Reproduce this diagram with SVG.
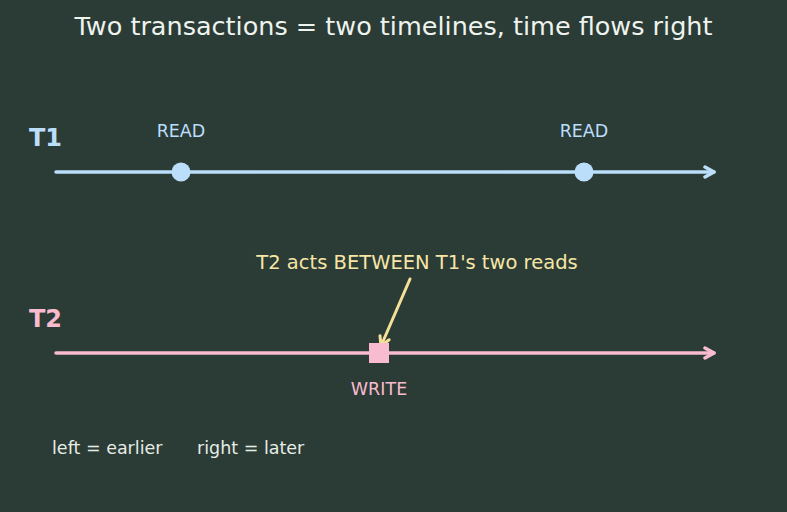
<svg xmlns="http://www.w3.org/2000/svg" width="787" height="512" viewBox="0 0 787 512">
<style>
text{font-family:"DejaVu Sans","Liberation Sans",sans-serif}
.t1{fill:#bbdefb}.t2{fill:#f8bbd0}
.lbl{font-size:17.5px;text-anchor:middle}
.name{font-size:24px;font-weight:bold}
</style>
<defs>
<marker id="ah1" viewBox="0 0 14 14" refX="12" refY="7" markerWidth="14" markerHeight="14" markerUnits="userSpaceOnUse" orient="auto"><path d="M3,2 L12,7 L3,12" fill="none" stroke="#bbdefb" stroke-width="3.5" stroke-linecap="round" stroke-linejoin="round"/></marker>
<marker id="ah2" viewBox="0 0 14 14" refX="12" refY="7" markerWidth="14" markerHeight="14" markerUnits="userSpaceOnUse" orient="auto"><path d="M3,2 L12,7 L3,12" fill="none" stroke="#f8bbd0" stroke-width="3.5" stroke-linecap="round" stroke-linejoin="round"/></marker>
<marker id="ah3" viewBox="0 0 14 14" refX="12" refY="7" markerWidth="14" markerHeight="14" markerUnits="userSpaceOnUse" orient="auto"><path d="M3,2 L12,7 L3,12" fill="none" stroke="#f5e09a" stroke-width="3" stroke-linecap="round" stroke-linejoin="round"/></marker>
</defs>
<rect width="787" height="512" fill="#2b3b35"/>
<text x="393.5" y="35" font-size="25.5" text-anchor="middle" fill="#eef3ee">Two transactions = two timelines, time flows right</text>
<g id="connectors">
<line x1="56" y1="172" x2="714" y2="172" stroke="#bbdefb" stroke-width="3.5" stroke-linecap="round" marker-end="url(#ah1)"/>
<line x1="56" y1="353" x2="714" y2="353" stroke="#f8bbd0" stroke-width="3.5" stroke-linecap="round" marker-end="url(#ah2)"/>
<line x1="410" y1="279" x2="381" y2="346" stroke="#f5e09a" stroke-width="3" stroke-linecap="round" marker-end="url(#ah3)"/>
</g>
<g id="T1">
<text x="29" y="146" class="name t1">T1</text>
</g>
<g id="T2">
<text x="29" y="327" class="name t2">T2</text>
</g>
<g id="read1">
<circle cx="181" cy="172" r="9.5" class="t1"/>
<text x="181" y="137" class="lbl t1">READ</text>
</g>
<g id="read2">
<circle cx="584" cy="172" r="9.5" class="t1"/>
<text x="584" y="137" class="lbl t1">READ</text>
</g>
<g id="write">
<rect x="369" y="343" width="20" height="20" class="t2"/>
<text x="379" y="395" class="lbl t2">WRITE</text>
</g>
<g id="note">
<text x="417" y="269" font-size="19.5" text-anchor="middle" fill="#f7e6a6">T2 acts BETWEEN T1's two reads</text>
</g>
<g id="legend">
<text x="52" y="454" font-size="17.5" fill="#e6ece6">left = earlier</text>
<text x="197" y="454" font-size="17.5" fill="#e6ece6">right = later</text>
</g>
</svg>
